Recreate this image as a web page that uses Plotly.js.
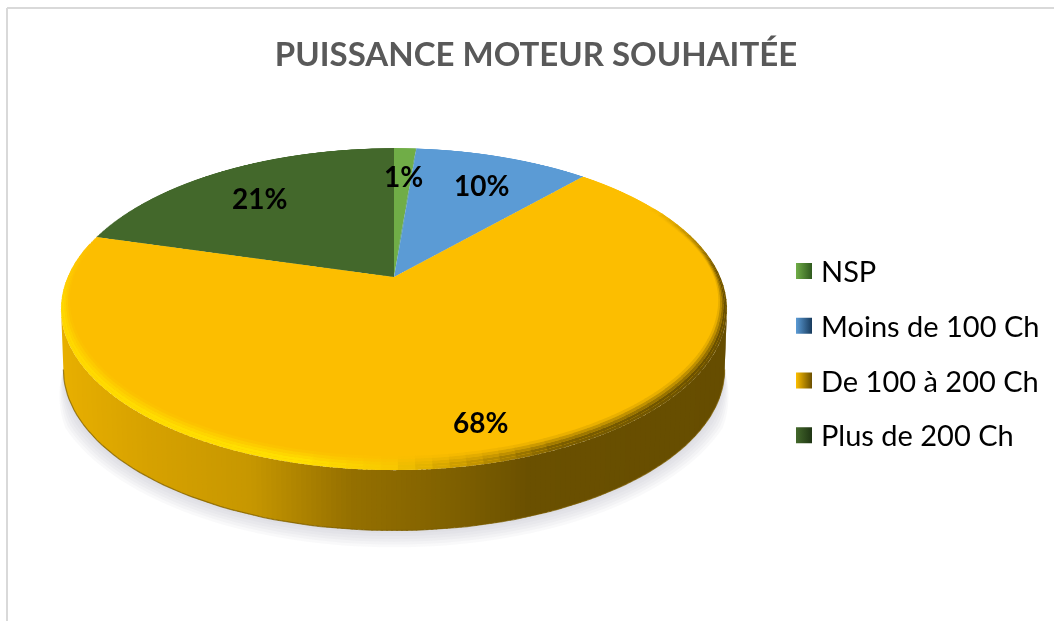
<!DOCTYPE html>
<html><head><meta charset="utf-8">
<script src="https://cdn.plot.ly/plotly-3.0.1.min.js"></script>
<style>
html,body{margin:0;padding:0;background:#fff;width:1054px;height:621px;overflow:hidden}
#disc,#frame{position:absolute}
#frame{left:0;top:0;width:1054px;height:621px}
#disc{left:64px;top:-53px;width:660px;height:660px;transform-origin:50% 50%;transform:perspective(1443px) rotateX(61.7deg)}
</style></head><body>
<div id="disc"></div><div id="frame"></div>
<script>
const categories = ["NSP", "Moins de 100 Ch", "De 100 à 200 Ch", "Plus de 200 Ch"];
const shares = [1.3, 10.3, 67.8, 20.6];
const colors = ["#70AD47", "#5B9BD5", "#FCBE00", "#43682B"];
const shadeColors = ["#2f5a1e", "#173a5c", "#6b4f00", "#1f3514"];
const chartTitle = "PUISSANCE MOTEUR SOUHAITÉE";

// Real pie, tilted into perspective by the #disc CSS transform.
Plotly.newPlot("disc", [{
  type: "pie", labels: categories, values: shares, sort: false, direction: "clockwise",
  rotation: 0, textinfo: "none", hoverinfo: "skip", showlegend: false,
  marker: {colors: colors, line: {width: 0}}
}], {
  width: 660, height: 660, margin: {l: 4, r: 4, t: 4, b: 4},
  paper_bgcolor: "rgba(0,0,0,0)", showlegend: false
}, {staticPlot: true, displayModeBar: false});

// Same projection as the CSS transform, used for the disc's rim and side wall.
const cx = 394, cy = 277, R = 326.3, Rc = 154.7, k = 0.199, depth = 61;
const proj = (t, f) => {
  const den = 1 + k * f * Math.sin(t);
  return [cx + R * f * Math.cos(t) / den, cy - Rc * f * Math.sin(t) / den];
};
const bottom = t => { const p = proj(t, 1); return [cx + (p[0] - cx) * 0.993, p[1] + depth * 0.99]; };
const hex = c => [1, 3, 5].map(i => parseInt(c.slice(i, i + 2), 16));
const mix = (a, b, w) => { const A = hex(a), B = hex(b); return "rgb(" + A.map((v, i) => Math.round(v + (B[i] - v) * w)).join(",") + ")"; };
const ramp = (stops, x) => {
  if (x <= stops[0][0]) return stops[0][1];
  for (let i = 1; i < stops.length; i++) if (x <= stops[i][0]) {
    return mix(stops[i - 1][1], stops[i][1], (x - stops[i - 1][0]) / (stops[i][0] - stops[i - 1][0]));
  }
  return stops[stops.length - 1][1];
};
const rgbHex = s => s[0] === "#" ? s : "#" + s.match(/\d+/g).map(v => (+v).toString(16).padStart(2, "0")).join("");
const wallStops = [[61,"#e8af00"],[150,"#d6a100"],[250,"#c79700"],[350,"#957000"],[450,"#806100"],[530,"#6a5000"],[727,"#664d00"]];
const rimStops = [[61,"#ffd800"],[120,"#ffdc00"],[300,"#ffe000"],[390,"#f8c800"],[470,"#c89800"],[560,"#7c5e00"],[727,"#6a5000"]];
const poly = (pts, color, opacity) => ({
  type: "scatter", mode: "none", x: pts.map(p => p[0]), y: pts.map(p => p[1]), fill: "toself",
  fillcolor: color, opacity: opacity === undefined ? 1 : opacity, showlegend: false, hoverinfo: "skip", line: {width: 0}
});

const traces = [];
categories.forEach((name, i) => traces.push({
  type: "scatter", mode: "markers", x: [-60], y: [-60], name: name, legendgroup: name, hoverinfo: "skip",
  marker: {symbol: "square", size: 20, color: colors[i], gradient: {type: "horizontal", color: shadeColors[i]}, line: {width: 0}}
}));

const tStart = Math.PI + Math.asin(k), tEnd = 2 * Math.PI - Math.asin(k);
// shadow
for (let lvl = 6; lvl >= 1; lvl--) {
  const e = lvl * 2.8, outer = [], inner = [];
  for (let j = 0; j <= 90; j++) {
    const t = tStart + (tEnd - tStart) * j / 90, b = bottom(t);
    const taper = Math.min(1, (t - tStart) / 0.3, (tEnd - t) / 0.3);
    inner.push(b);
    outer.push([b[0] + e * taper * Math.cos(t), b[1] + e * taper * Math.abs(Math.sin(t))]);
  }
  traces.push(poly(inner.concat(outer.reverse()), "#70708a", 0.045));
}
// wall: vertical colour bands of equal width, each overlapping the next
const xLeft = proj(tStart, 1)[0], xRight = proj(tEnd, 1)[0], bandW = 5;
const tAtX = x => {
  let lo = tStart, hi = tEnd;
  for (let i = 0; i < 40; i++) { const m = (lo + hi) / 2; if (proj(m, 1)[0] < x) lo = m; else hi = m; }
  return (lo + hi) / 2;
};
for (let bx = xLeft; bx < xRight; bx += bandW) {
  const a = tAtX(bx), b = tAtX(Math.min(xRight, bx + bandW + 2)), top = [], low = [];
  for (let s = 0; s <= 8; s++) {
    const t = a + (b - a) * s / 8;
    top.push(proj(t, 1));
    low.push(bottom(t));
  }
  traces.push(poly(top.concat(low.reverse()), ramp(wallStops, bx + bandW / 2)));
}
// lower edge of the wall
const edge = [];
for (let j = 0; j <= 90; j++) edge.push(bottom(tStart + (tEnd - tStart) * j / 90));
traces.push({type: "scatter", mode: "lines", x: edge.map(p => p[0]), y: edge.map(p => p[1]),
  line: {color: "#7a5c00", width: 1.2}, opacity: 0.7, showlegend: false, hoverinfo: "skip"});
// bevel on the rim of the top face
const gap = 0.003, bevelFrom = Math.PI * 0.93, bevelTo = Math.PI * 2.16, bevelN = 90, levels = 5;
const bevelAt = (t, w) => {
  const o = proj(t, 1), i = proj(t, 0.975);
  i[1] -= 8 * Math.max(0, Math.min(1, (0.35 - Math.sin(t)) / 0.6));
  return [i[0] + (o[0] - i[0]) * w, i[1] + (o[1] - i[1]) * w];
};
for (let j = 0; j < bevelN; j++) {
  const a = bevelFrom + (bevelTo - bevelFrom) * j / bevelN, b = bevelFrom + (bevelTo - bevelFrom) * (j + 1) / bevelN;
  const m = (a + b) / 2, x = proj(m, 1)[0];
  const fade = Math.min(1, (m - bevelFrom) / 0.4, (bevelTo - m) / 0.45);
  const rim = rgbHex(mix(colors[2], rgbHex(ramp(rimStops, x)), fade));
  for (let l = 0; l < levels; l++) {
    const w0 = l / levels, w1 = (l + 1) / levels;
    traces.push(poly([bevelAt(a - gap, w0), bevelAt(b + gap, w0), bevelAt(b + gap, w1), bevelAt(a - gap, w1)],
      mix(colors[2], rim, Math.min(1, (l + 0.5) / levels / 0.7))));
  }
}

const labelAt = [[403, 176], [481, 185], [480, 422], [259, 198]];
const annotations = shares.map((v, i) => ({
  x: labelAt[i][0], y: labelAt[i][1], xref: "x", yref: "y", showarrow: false,
  text: Math.round(v) + "%", font: {family: "Lato, Carlito, sans-serif", size: 28, color: "#000", weight: 700}
}));

Plotly.newPlot("frame", traces, {
  width: 1054, height: 621, margin: {l: 0, r: 0, t: 0, b: 0},
  paper_bgcolor: "rgba(0,0,0,0)", plot_bgcolor: "rgba(0,0,0,0)",
  title: {text: "<b>" + chartTitle + "</b>", x: 536 / 1054, xanchor: "center", y: 1 - 54 / 621, yanchor: "middle",
    font: {family: "Lato, Carlito, sans-serif", size: 33, color: "#595959"}},
  xaxis: {range: [0, 1054], visible: false, fixedrange: true},
  yaxis: {range: [621, 0], visible: false, fixedrange: true},
  showlegend: true,
  legend: {x: 781 / 1054, xanchor: "left", y: 1 - 245.7 / 621, yanchor: "top", bgcolor: "rgba(0,0,0,0)",
    tracegroupgap: 14, itemclick: false, itemdoubleclick: false,
    font: {family: "Lato, Carlito, sans-serif", size: 29, color: "#000"}},
  shapes: [
    {type: "line", xref: "paper", yref: "paper", x0: 7 / 1054, x1: 7 / 1054, y0: 0, y1: 1 - 8 / 621, line: {color: "#d9d9d9", width: 2}},
    {type: "line", xref: "paper", yref: "paper", x0: 7 / 1054, x1: 1, y0: 1 - 8 / 621, y1: 1 - 8 / 621, line: {color: "#d9d9d9", width: 2}}
  ],
  annotations: annotations
}, {staticPlot: true, displayModeBar: false}).then(() => {
  document.querySelectorAll("#frame .legendsymbols").forEach(g => g.setAttribute("transform", "translate(3,0)"));
});
</script></body></html>
